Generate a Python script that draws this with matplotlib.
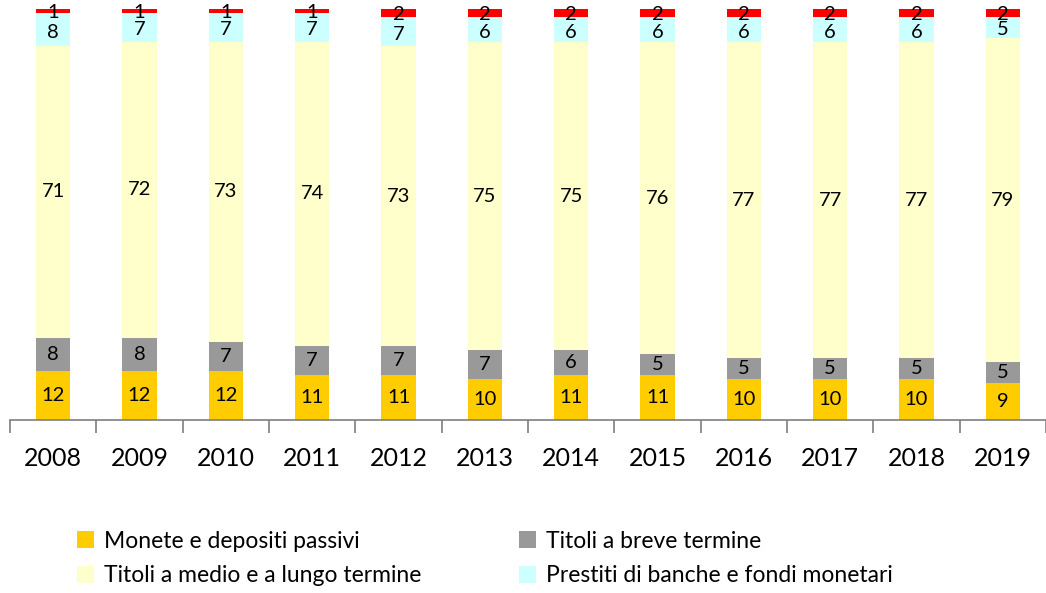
import numpy as np
import matplotlib
matplotlib.use('Agg')
import matplotlib.pyplot as plt
from matplotlib.patches import Patch

plt.rcParams['font.family'] = ['Lato', 'DejaVu Sans']

# dati (quote percentuali)
anni = ['2008', '2009', '2010', '2011', '2012', '2013',
        '2014', '2015', '2016', '2017', '2018', '2019']
monete = [12, 12, 12, 11, 11, 10, 11, 11, 10, 10, 10, 9]
breve = [8, 8, 7, 7, 7, 7, 6, 5, 5, 5, 5, 5]
medio_lungo = [71, 72, 73, 74, 73, 75, 75, 76, 77, 77, 77, 79]
prestiti = [8, 7, 7, 7, 7, 6, 6, 6, 6, 6, 6, 5]
altro = [1, 1, 1, 1, 2, 2, 2, 2, 2, 2, 2, 2]

serie = [monete, breve, medio_lungo, prestiti, altro]
colori = ['#FFCC00', '#999999', '#FFFFCC', '#CCFFFF', '#FF0000']
nomi = ['Monete e depositi passivi', 'Titoli a breve termine',
        'Titoli a medio e a lungo termine',
        'Prestiti di banche e fondi monetari', None]

fig = plt.figure(figsize=(10.46, 5.93), dpi=100)
ax = fig.add_axes([10 / 1046, 173 / 593, 1036 / 1046, 411 / 593])

x = np.arange(len(anni))
base = np.zeros(len(anni))
for k, (vals, col) in enumerate(zip(serie, colori)):
    vals = np.array(vals, dtype=float)
    ax.bar(x, vals, 0.4, bottom=base, color=col, edgecolor='none')
    for xi, b, v in zip(x, base, vals):
        yy = b + v / 2
        if k == 4:
            yy = b + v / 2 - 0.3
        elif k == 3:
            yy = b + v / 2 - 0.6
        ax.text(xi, yy, '%d' % v, ha='center', va='center',
                fontsize=14.5, color='black')
    base = base + vals

ax.set_xlim(-0.5, len(anni) - 0.5)
ax.set_ylim(0, 100)
ax.set_yticks([])
for s in ['top', 'right', 'left']:
    ax.spines[s].set_visible(False)
ax.spines['bottom'].set_color('#7f7f7f')
ax.spines['bottom'].set_linewidth(1.2)

ax.set_xticks(np.arange(-0.5, len(anni), 1.0))
ax.set_xticklabels([])
ax.tick_params(axis='x', length=9, width=1.2, color='#7f7f7f')
for xi, lab in zip(x, anni):
    ax.text(xi, -9.4, lab, ha='center', va='center', fontsize=18)

handles = [Patch(facecolor=c, edgecolor='none', label=n)
           for c, n in zip(colori[:4], nomi[:4])]
handles = [handles[0], handles[2], handles[1], handles[3]]
fig.legend(handles=handles, ncol=2, loc='upper left',
           bbox_to_anchor=(56 / 1046, 1 - 510 / 593), frameon=False,
           fontsize=16.5, handlelength=0.75, handleheight=0.75,
           handletextpad=0.45, columnspacing=4.25, labelspacing=0.6)

fig.savefig('out.png', dpi=100)
